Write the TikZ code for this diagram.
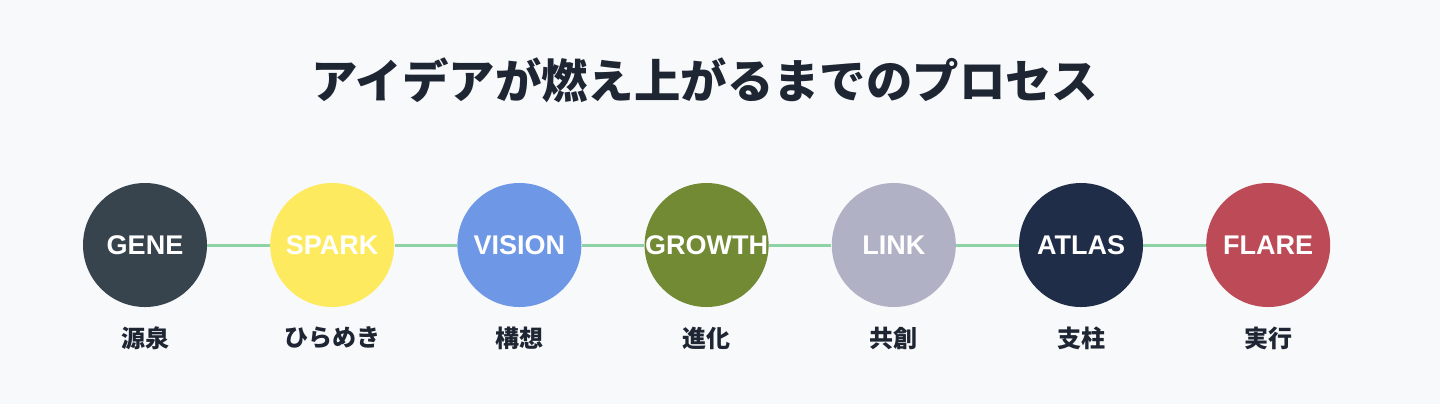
\documentclass[tikz,border=0pt]{standalone}
\usepackage{fontspec}
\setmainfont{Liberation Sans}
\newfontfamily\jpfont{Noto Sans CJK JP}
\usepackage{xcolor}
\definecolor{pagebg}{HTML}{F8F9FB}
\definecolor{inkdark}{HTML}{1F2633}
\definecolor{linkgreen}{HTML}{8ED3A6}
\definecolor{genecol}{HTML}{37444E}
\definecolor{sparkcol}{HTML}{FEEA5F}
\definecolor{visioncol}{HTML}{6E98E6}
\definecolor{growthcol}{HTML}{718A33}
\definecolor{linkcol}{HTML}{B1B1C6}
\definecolor{atlascol}{HTML}{1F2D48}
\definecolor{flarecol}{HTML}{BC4B57}
\usetikzlibrary{positioning}

\begin{document}
\begin{tikzpicture}[
  node distance=31.2pt,
  stage/.style={circle, minimum size=62pt, inner sep=0pt,
                font=\fontsize{13.5}{16}\selectfont\bfseries, text=white},
  jp/.style={font=\jpfont\fontsize{12}{14}\selectfont\bfseries, text=inkdark,
             inner sep=0pt},
  conn/.style={line width=1.5pt, color=linkgreen}
]
  \fill[pagebg] (0pt,0pt) rectangle (720pt,-202pt);
  \useasboundingbox (0pt,0pt) rectangle (720pt,-202pt);

  \node[font=\jpfont\fontsize{23.2}{28}\selectfont\bfseries, text=inkdark]
    (title) at (352.5pt,-40pt) {アイデアが燃え上がるまでのプロセス};

  \node[stage, fill=genecol] (gene) at (72.5pt,-122.5pt) {\makebox[0pt]{GENE}};
  \node[stage, fill=sparkcol, right=of gene]    (spark)  {\makebox[0pt]{SPARK}};
  \node[stage, fill=visioncol, right=of spark]  (vision) {\makebox[0pt]{VISION}};
  \node[stage, fill=growthcol, right=of vision] (growth) {\makebox[0pt]{GROWTH}};
  \node[stage, fill=linkcol, right=of growth]   (link)   {\makebox[0pt]{LINK}};
  \node[stage, fill=atlascol, right=of link]    (atlas)  {\makebox[0pt]{ATLAS}};
  \node[stage, fill=flarecol, right=of atlas]   (flare)  {\makebox[0pt]{FLARE}};

  \draw[conn] (gene)   -- (spark);
  \draw[conn] (spark)  -- (vision);
  \draw[conn] (vision) -- (growth);
  \draw[conn] (growth) -- (link);
  \draw[conn] (link)   -- (atlas);
  \draw[conn] (atlas)  -- (flare);

  % Japanese captions under each stage
  \node[jp] (gene-jp)   at ([yshift=-46.5pt]gene.center)   {源泉};
  \node[jp] (spark-jp)  at ([yshift=-46.5pt]spark.center)  {ひらめき};
  \node[jp] (vision-jp) at ([yshift=-46.5pt]vision.center) {構想};
  \node[jp] (growth-jp) at ([yshift=-46.5pt]growth.center) {進化};
  \node[jp] (link-jp)   at ([yshift=-46.5pt]link.center)   {共創};
  \node[jp] (atlas-jp)  at ([yshift=-46.5pt]atlas.center)  {支柱};
  \node[jp] (flare-jp)  at ([yshift=-46.5pt]flare.center)  {実行};
\end{tikzpicture}
\end{document}
